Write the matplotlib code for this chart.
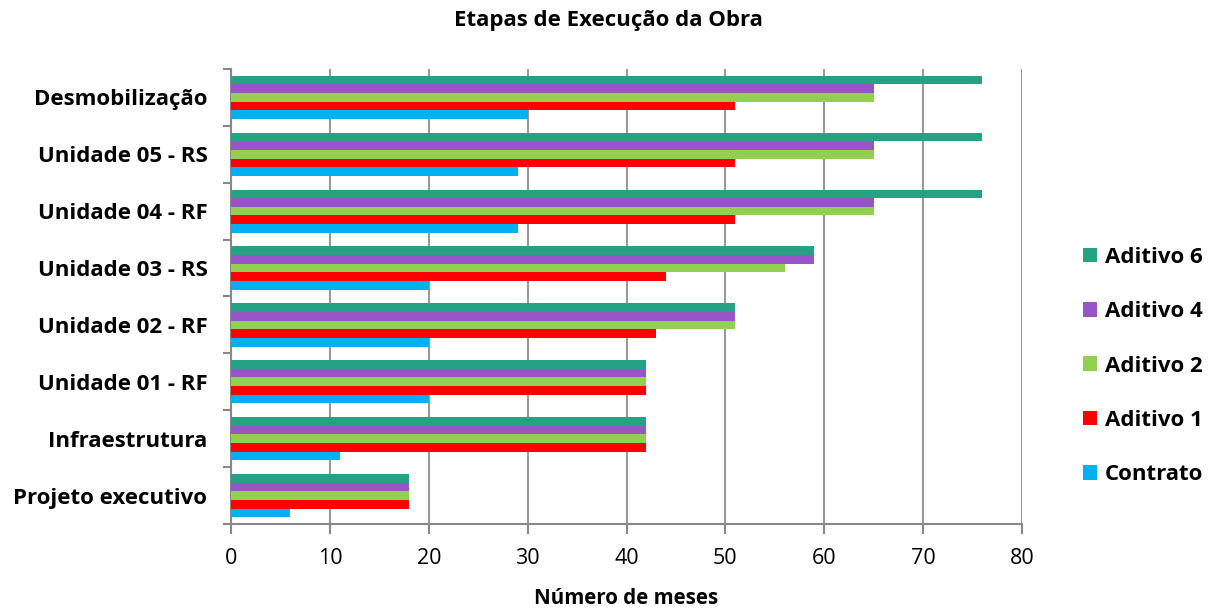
import matplotlib
matplotlib.use('Agg')
import matplotlib.pyplot as plt
import numpy as np

plt.rcParams['font.family'] = ['Open Sans', 'DejaVu Sans']

etapas = ['Projeto executivo', 'Infraestrutura', 'Unidade 01 - RF', 'Unidade 02 - RF',
          'Unidade 03 - RS', 'Unidade 04 - RF', 'Unidade 05 - RS', 'Desmobilização']

contrato = [6, 11, 20, 20, 20, 29, 29, 30]
aditivo1 = [18, 42, 42, 43, 44, 51, 51, 51]
aditivo2 = [18, 42, 42, 51, 56, 65, 65, 65]
aditivo4 = [18, 42, 42, 51, 59, 65, 65, 65]
aditivo6 = [18, 42, 42, 51, 59, 76, 76, 76]

series = [('Contrato', contrato, '#00B0F0'),
          ('Aditivo 1', aditivo1, '#FF0000'),
          ('Aditivo 2', aditivo2, '#92D050'),
          ('Aditivo 4', aditivo4, '#9955C8'),
          ('Aditivo 6', aditivo6, '#24A283')]

fig = plt.figure(figsize=(12.16, 6.1), dpi=100)
ax = fig.add_axes([0.19, 0.141, 0.6505, 0.746])

y = np.arange(len(etapas))
h = 0.152
for i, (nome, vals, cor) in enumerate(series):
    ax.barh(y - 2 * h + i * h, vals, height=h, color=cor, label=nome, zorder=3)

ax.set_xlim(0, 80)
ax.set_ylim(-0.5, len(etapas) - 0.5)
ax.set_xticks(np.arange(0, 81, 10))
ax.set_yticks(y)
ax.set_yticklabels(etapas, fontsize=16, fontweight='bold')
ax.set_yticks(np.arange(-0.5, len(etapas), 1), minor=True)
ax.tick_params(axis='y', which='major', length=0, pad=17)
ax.tick_params(axis='y', which='minor', length=6, width=1.5, color='#888888')
ax.tick_params(axis='x', length=7, width=1.5, color='#888888', labelsize=15.5, pad=10)

ax.grid(axis='x', color='#999999', linewidth=1.5, zorder=0)
for s in ['top', 'right']:
    ax.spines[s].set_visible(False)
ax.spines['left'].set_color('#888888')
ax.spines['left'].set_linewidth(1.5)
ax.spines['bottom'].set_color('#888888')
ax.spines['bottom'].set_linewidth(1.5)

ax.set_xlabel('Número de meses', fontsize=14.8, fontweight='bold', labelpad=14)
fig.text(0.5, 0.967, 'Etapas de Execução da Obra', fontsize=16, fontweight='bold',
         ha='center', va='center')

handles, labels = ax.get_legend_handles_labels()
leg = fig.legend(handles[::-1], labels[::-1], loc='center left',
                 bbox_to_anchor=(0.874, 0.4), frameon=False,
                 prop={'size': 16, 'weight': 'bold'},
                 handlelength=0.65, handleheight=0.65, handletextpad=0.35,
                 labelspacing=1.5)

fig.savefig('out.png', dpi=100)
